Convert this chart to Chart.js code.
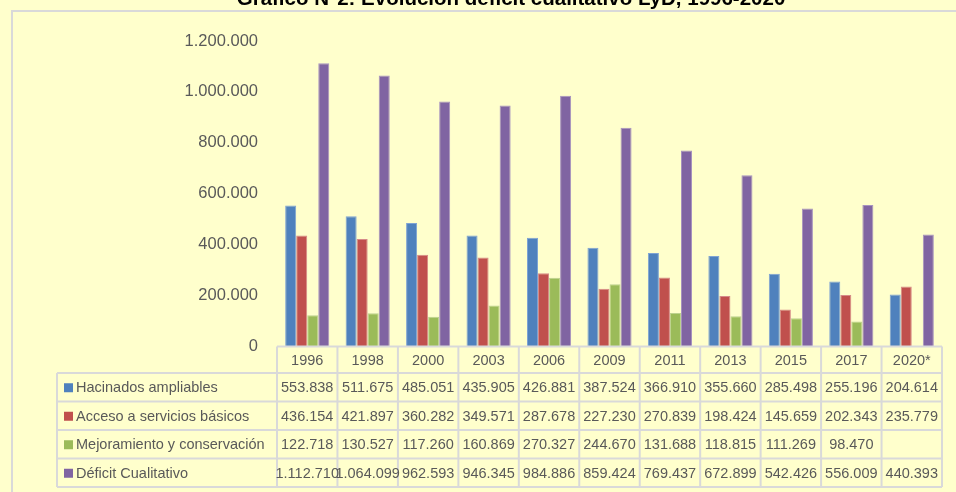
<!DOCTYPE html>
<html>
<head>
<meta charset="utf-8">
<script src="https://cdn.jsdelivr.net/npm/chart.js@4.4.1/dist/chart.umd.min.js"></script>
<style>
  html, body { margin: 0; padding: 0; background: #FFFFCC; }
  #wrap { position: relative; width: 956px; height: 492px; overflow: hidden; }
</style>
</head>
<body>
<div id="wrap"><canvas id="chart" width="956" height="492"></canvas></div>
<script>
const years = ['1996', '1998', '2000', '2003', '2006', '2009', '2011', '2013', '2015', '2017', '2020*'];
const hacinados = [553838, 511675, 485051, 435905, 426881, 387524, 366910, 355660, 285498, 255196, 204614];
const acceso = [436154, 421897, 360282, 349571, 287678, 227230, 270839, 198424, 145659, 202343, 235779];
const mejoramiento = [122718, 130527, 117260, 160869, 270327, 244670, 131688, 118815, 111269, 98470, null];
const deficit = [1112710, 1064099, 962593, 946345, 984886, 859424, 769437, 672899, 542426, 556009, 440393];
const yTicks = [0, 200000, 400000, 600000, 800000, 1000000, 1200000];

const titleText = 'Gráfico N°2: Evolución déficit cualitativo LyD, 1996-2020';
const textColor = '#595959';
const lineColor = '#D9D9D9';

// miles con punto, como en el original
function fmt(v) {
  if (v === null || v === undefined) return '';
  return String(v).replace(/\B(?=(\d{3})+(?!\d))/g, '.');
}

// marco, titulo y tabla de datos bajo el eje
const tablePlugin = {
  id: 'dataTable',
  beforeDraw(chart) {
    const ctx = chart.ctx;
    ctx.save();
    ctx.fillStyle = '#FFFFCC';
    ctx.fillRect(0, 0, chart.width, chart.height);
    ctx.strokeStyle = lineColor;
    ctx.lineWidth = 2;
    ctx.strokeRect(12, 11, chart.width + 20, chart.height + 20);
    ctx.restore();
  },
  afterDraw(chart) {
    const ctx = chart.ctx;
    const x = chart.scales.x;
    const area = chart.chartArea;
    const n = chart.data.labels.length;
    const colW = (area.right - area.left) / n;
    const legendLeft = 57;
    const headTop = area.bottom;
    const headBottom = 373;
    const rowH = 28.5;
    const sets = chart.data.datasets;
    const tableBottom = headBottom + rowH * sets.length;

    ctx.save();
    // titulo (cortado arriba como en la imagen)
    ctx.fillStyle = '#000000';
    ctx.font = 'bold 20.5px "Liberation Sans", Arial, sans-serif';
    ctx.textAlign = 'center';
    ctx.textBaseline = 'alphabetic';
    ctx.fillText(titleText, 511, 5);

    // lineas
    ctx.strokeStyle = lineColor;
    ctx.lineWidth = 2;
    ctx.beginPath();
    ctx.moveTo(area.left, headTop);
    ctx.lineTo(area.right, headTop);
    for (let r = 0; r <= sets.length; r++) {
      const y = headBottom + r * rowH;
      ctx.moveTo(legendLeft, y);
      ctx.lineTo(area.right, y);
    }
    ctx.moveTo(legendLeft, headBottom);
    ctx.lineTo(legendLeft, tableBottom);
    for (let i = 0; i <= n; i++) {
      const cx = area.left + i * colW;
      ctx.moveTo(cx, headTop);
      ctx.lineTo(cx, tableBottom);
    }
    ctx.stroke();

    // textos
    ctx.fillStyle = textColor;
    ctx.font = '14.5px "Liberation Sans", Arial, sans-serif';
    ctx.textBaseline = 'middle';
    ctx.textAlign = 'center';
    chart.data.labels.forEach((lab, i) => {
      ctx.fillText(lab, x.getPixelForValue(i), (headTop + headBottom) / 2 + 1);
    });
    sets.forEach((ds, r) => {
      const cy = headBottom + r * rowH + rowH / 2 + 1;
      ctx.textAlign = 'center';
      ctx.fillStyle = textColor;
      ds.data.forEach((v, i) => {
        ctx.fillText(fmt(v), x.getPixelForValue(i), cy);
      });
      ctx.fillStyle = ds.backgroundColor;
      ctx.fillRect(64, cy - 5, 9, 9);
      ctx.fillStyle = textColor;
      ctx.textAlign = 'left';
      ctx.fillText(ds.label, 76, cy);
    });
    ctx.restore();
  }
};

const barOpts = { borderWidth: 1, categoryPercentage: 0.73, barPercentage: 1 };

new Chart(document.getElementById('chart').getContext('2d'), {
  type: 'bar',
  data: {
    labels: years,
    datasets: [
      { label: 'Hacinados ampliables', data: hacinados, backgroundColor: '#4F81BD', borderColor: '#7EA3D3', ...barOpts },
      { label: 'Acceso a servicios básicos', data: acceso, backgroundColor: '#C0504D', borderColor: '#D68A88', ...barOpts },
      { label: 'Mejoramiento y conservación', data: mejoramiento, backgroundColor: '#9BBB59', borderColor: '#BCD28E', ...barOpts },
      { label: 'Déficit Cualitativo', data: deficit, backgroundColor: '#8064A2', borderColor: '#A793BF', ...barOpts }
    ]
  },
  options: {
    responsive: false,
    animation: false,
    layout: { padding: { left: 0, right: 14, top: 41, bottom: 145.5 } },
    plugins: {
      legend: { display: false },
      tooltip: { enabled: false },
      title: { display: false }
    },
    scales: {
      x: { display: false },
      y: {
        min: 0,
        max: 1200000,
        afterFit(scale) { scale.width = 277; },
        afterBuildTicks(scale) { scale.ticks = yTicks.map(v => ({ value: v })); },
        grid: { display: false, drawTicks: false },
        border: { display: false },
        ticks: {
          padding: 19,
          color: textColor,
          font: { family: '"Liberation Sans", Arial, sans-serif', size: 16.5 },
          callback: v => fmt(v)
        }
      }
    }
  },
  plugins: [tablePlugin]
});
</script>
</body>
</html>
